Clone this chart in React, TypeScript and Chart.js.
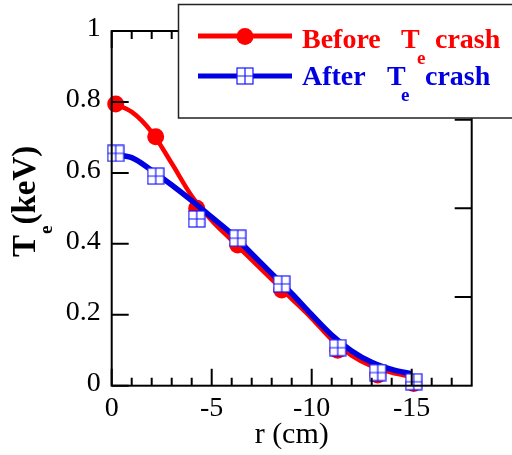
import React, { useEffect, useRef } from "react";
import { Chart, registerables } from "chart.js";
Chart.register(...registerables);

// ---- data ----
const MARKER_R = [-0.2, -2.2, -4.25, -6.3, -8.5, -11.3, -13.3, -15.1];
const BEFORE_TE = [0.794, 0.702, 0.5, 0.397, 0.27, 0.1, 0.03, 0.006];
const AFTER_TE = [0.655, 0.591, 0.47, 0.416, 0.287, 0.107, 0.037, 0.011];

const FIT_R = [0, -1, -2, -3, -4, -5, -6, -7, -8, -9, -10, -11, -12, -13, -14, -15];
const BEFORE_FIT = [0.797, 0.772, 0.715, 0.627, 0.535, 0.466, 0.41, 0.355, 0.3, 0.245, 0.19, 0.13, 0.085, 0.055, 0.037, 0.025];
const AFTER_FIT = [0.652, 0.643, 0.607, 0.566, 0.522, 0.475, 0.428, 0.372, 0.316, 0.26, 0.2, 0.143, 0.098, 0.066, 0.046, 0.033];

const X_MAJOR = [0, -5, -10, -15];
const X_TICK_LABELS = ["0", "-5", "-10", "-15"];
const X_MINOR = [-1, -2, -3, -4, -6, -7, -8, -9, -11, -12, -13, -14, -16, -17];
const Y_LEFT_TICKS = [0, 0.2, 0.4, 0.6, 0.8, 1];
const Y_TICK_LABELS = ["0", "0.2", "0.4", "0.6", "0.8", "1"];
const Y_RIGHT_TICKS = [0.25, 0.5, 0.75];

const X_TITLE = "r (cm)";
const Y_TITLE_MAIN = "T";
const Y_TITLE_SUB = "e";
const Y_TITLE_REST = "(keV)";
const LEGEND_BEFORE = ["Before", "T", "e", "crash"];
const LEGEND_AFTER = ["After", "T", "e", "crash"];

const RED = "#ff0000";
const BLUE = "#0000e0";
const SERIF = '"Liberation Serif", "Times New Roman", serif';

function makeSquare(): HTMLCanvasElement {
  const c = document.createElement("canvas");
  c.width = 18;
  c.height = 18;
  const g = c.getContext("2d")!;
  g.fillStyle = "#ffffff";
  g.fillRect(1, 1, 16, 16);
  g.strokeStyle = "#1515ff";
  g.lineWidth = 1.2;
  g.strokeRect(1, 1, 16, 16);
  g.beginPath();
  g.moveTo(9, 1);
  g.lineTo(9, 17);
  g.moveTo(1, 9);
  g.lineTo(17, 9);
  g.stroke();
  return c;
}

export default function App() {
  const ref = useRef<HTMLCanvasElement>(null);

  useEffect(() => {
    document.body.style.margin = "0";
    const square = makeSquare();

    const decor = {
      id: "decor",
      afterDatasetsDraw(chart: any) {
        const { ctx, chartArea: a, scales } = chart;
        const xs = scales.x;
        const ys = scales.y;
        ctx.save();
        // frame
        ctx.strokeStyle = "#000";
        ctx.lineWidth = 2;
        ctx.strokeRect(a.left, a.top, a.right - a.left, a.bottom - a.top);
        // ticks
        ctx.beginPath();
        for (const v of X_MINOR) {
          const p = xs.getPixelForValue(v);
          ctx.moveTo(p, a.bottom);
          ctx.lineTo(p, a.bottom - 8);
          ctx.moveTo(p, a.top);
          ctx.lineTo(p, a.top + 8);
        }
        for (const v of X_MAJOR) {
          const p = xs.getPixelForValue(v);
          ctx.moveTo(p, a.bottom);
          ctx.lineTo(p, a.bottom - 17);
          ctx.moveTo(p, a.top);
          ctx.lineTo(p, a.top + 17);
        }
        for (const v of Y_LEFT_TICKS) {
          const p = ys.getPixelForValue(v);
          ctx.moveTo(a.left, p);
          ctx.lineTo(a.left + 17, p);
        }
        for (const v of Y_RIGHT_TICKS) {
          const p = ys.getPixelForValue(v);
          ctx.moveTo(a.right, p);
          ctx.lineTo(a.right - 17, p);
        }
        ctx.stroke();

        // tick labels
        ctx.fillStyle = "#000";
        ctx.font = `28px ${SERIF}`;
        ctx.textBaseline = "alphabetic";
        ctx.textAlign = "right";
        Y_LEFT_TICKS.forEach((v, i) => {
          const p = ys.getPixelForValue(v);
          ctx.fillText(Y_TICK_LABELS[i], a.left - 11, p + 5);
        });
        ctx.textAlign = "center";
        X_MAJOR.forEach((v, i) => {
          const p = xs.getPixelForValue(v);
          ctx.fillText(X_TICK_LABELS[i], p, a.bottom + 30);
        });
        // x title
        ctx.font = `30px ${SERIF}`;
        ctx.fillText(X_TITLE, (a.left + a.right) / 2, a.bottom + 57);

        // y title (rotated, with subscript)
        ctx.save();
        ctx.translate(35, 257);
        ctx.rotate(-Math.PI / 2);
        ctx.textAlign = "left";
        ctx.font = `bold 33px ${SERIF}`;
        ctx.fillText(Y_TITLE_MAIN, 0, 0);
        const w1 = ctx.measureText(Y_TITLE_MAIN).width;
        ctx.font = `bold 19px ${SERIF}`;
        ctx.fillText(Y_TITLE_SUB, w1 + 1, 17);
        const w2 = ctx.measureText(Y_TITLE_SUB).width;
        ctx.font = `bold 33px ${SERIF}`;
        ctx.fillText(Y_TITLE_REST, w1 + w2 + 2, 0);
        ctx.restore();
        ctx.restore();
      },
      afterDraw(chart: any) {
        const { ctx } = chart;
        ctx.save();
        // legend box
        ctx.fillStyle = "#fff";
        ctx.fillRect(178.5, 4.5, 400, 113.5);
        ctx.strokeStyle = "#222";
        ctx.lineWidth = 1.5;
        ctx.strokeRect(178.5, 4.5, 400, 113.5);

        // sample lines
        ctx.lineWidth = 5;
        ctx.strokeStyle = RED;
        ctx.beginPath();
        ctx.moveTo(198, 36);
        ctx.lineTo(292, 36);
        ctx.stroke();
        ctx.fillStyle = RED;
        ctx.beginPath();
        ctx.arc(245, 36.5, 8.5, 0, Math.PI * 2);
        ctx.fill();

        ctx.strokeStyle = BLUE;
        ctx.beginPath();
        ctx.moveTo(198, 76);
        ctx.lineTo(292, 76);
        ctx.stroke();
        ctx.drawImage(square, 245 - 9, 76 - 9);

        // texts
        ctx.textAlign = "left";
        ctx.textBaseline = "alphabetic";
        const big = `bold 28px ${SERIF}`;
        const small = `bold 19px ${SERIF}`;
        ctx.fillStyle = RED;
        ctx.font = big;
        ctx.fillText(LEGEND_BEFORE[0], 302, 48);
        ctx.fillText(LEGEND_BEFORE[1], 401, 48);
        ctx.fillText(LEGEND_BEFORE[3], 435, 48);
        ctx.font = small;
        ctx.fillText(LEGEND_BEFORE[2], 417, 64);

        ctx.fillStyle = BLUE;
        ctx.font = big;
        ctx.fillText(LEGEND_AFTER[0], 302, 85);
        ctx.fillText(LEGEND_AFTER[1], 387, 85);
        ctx.fillText(LEGEND_AFTER[3], 425, 85);
        ctx.font = small;
        ctx.fillText(LEGEND_AFTER[2], 401, 101);
        ctx.restore();
      },
    };

    const chart = new Chart(ref.current!, {
      type: "line",
      data: {
        datasets: [
          {
            label: "After fit",
            data: FIT_R.map((r, i) => ({ x: r, y: AFTER_FIT[i] })),
            borderColor: BLUE,
            borderWidth: 5.5,
            pointRadius: 0,
            cubicInterpolationMode: "monotone",
            order: 1,
          },
          {
            label: "After",
            data: MARKER_R.map((r, i) => ({ x: r, y: AFTER_TE[i] })),
            showLine: false,
            pointStyle: square as any,
            pointRadius: 9,
            order: 0,
            clip: false as any,
          },
          {
            label: "Before fit",
            data: FIT_R.map((r, i) => ({ x: r, y: BEFORE_FIT[i] })),
            borderColor: RED,
            borderWidth: 4.5,
            pointRadius: 0,
            cubicInterpolationMode: "monotone",
            order: 3,
          },
          {
            label: "Before",
            data: MARKER_R.map((r, i) => ({ x: r, y: BEFORE_TE[i] })),
            showLine: false,
            pointStyle: "circle",
            pointRadius: 8.5,
            backgroundColor: RED,
            borderColor: RED,
            borderWidth: 0,
            order: 2,
            clip: false as any,
          },
        ],
      } as any,
      options: {
        animation: false,
        responsive: true,
        maintainAspectRatio: false,
        layout: { padding: { top: 31, right: 40.3, left: 0, bottom: 0 } },
        plugins: { legend: { display: false }, tooltip: { enabled: false } },
        scales: {
          x: {
            type: "linear",
            min: -18,
            max: 0,
            reverse: true,
            grid: { display: false },
            border: { display: false },
            ticks: { display: false },
            afterFit: (s: any) => {
              s.height = 69.3;
            },
          },
          y: {
            type: "linear",
            min: 0,
            max: 1,
            grid: { display: false },
            border: { display: false },
            ticks: { display: false },
            afterFit: (s: any) => {
              s.width = 111.7;
            },
          },
        },
      } as any,
      plugins: [decor],
    });
    return () => chart.destroy();
  }, []);

  return (
    <div style={{ position: "fixed", left: 0, top: 0, width: 512, height: 455, background: "#fff" }}>
      <canvas ref={ref} />
    </div>
  );
}
